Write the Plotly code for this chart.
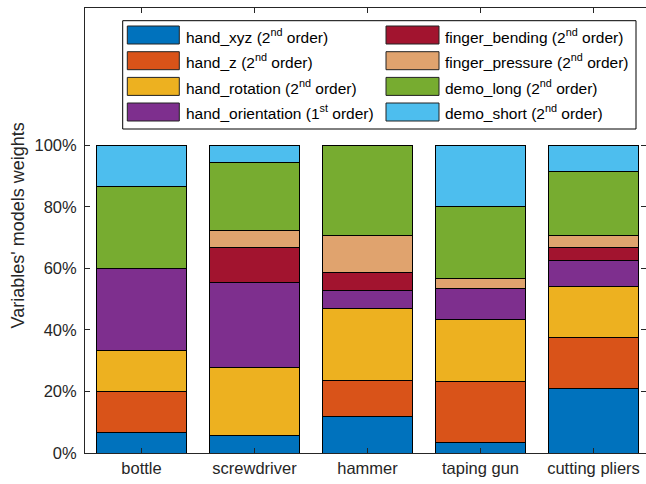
import plotly.graph_objects as go

# Objects and the share (%) of each variable model in the total weight
objects = ["bottle", "screwdriver", "hammer", "taping gun", "cutting pliers"]

hand_xyz = [6.67, 5.56, 11.76, 3.33, 20.83]
hand_z = [13.33, 0.0, 11.76, 20.00, 16.67]
hand_rotation = [13.33, 22.22, 23.53, 20.00, 16.67]
hand_orientation = [26.67, 27.78, 5.88, 10.00, 8.33]
finger_bending = [0.0, 11.11, 5.88, 0.0, 4.17]
finger_pressure = [0.0, 5.56, 11.76, 3.33, 4.17]
demo_long = [26.67, 22.22, 29.41, 23.33, 20.83]
demo_short = [13.33, 5.56, 0.0, 20.00, 8.33]

y_ticks = [0, 20, 40, 60, 80, 100]

series = [
    ("hand_xyz (2<sup>nd</sup> order)", hand_xyz, "#0072BD"),
    ("hand_z (2<sup>nd</sup> order)", hand_z, "#D95319"),
    ("hand_rotation (2<sup>nd</sup> order)", hand_rotation, "#EDB120"),
    ("hand_orientation (1<sup>st</sup> order)", hand_orientation, "#7E2F8E"),
    ("finger_bending (2<sup>nd</sup> order)", finger_bending, "#A2142F"),
    ("finger_pressure (2<sup>nd</sup> order)", finger_pressure, "#E0A36E"),
    ("demo_long (2<sup>nd</sup> order)", demo_long, "#77AC30"),
    ("demo_short (2<sup>nd</sup> order)", demo_short, "#4DBEEE"),
]

W, H = 646, 484
ML, MR, MT, MB = 85, 0, 8, 31
PW, PH = W - ML - MR, H - MT - MB

def px(x):
    return (x - ML) / PW

def py(y):
    return (H - MB - y) / PH

AX = "#262626"
FONT = "Liberation Sans, Arial, sans-serif"

fig = go.Figure()
for name, vals, color in series:
    fig.add_trace(go.Bar(
        x=objects, y=vals, name=name, width=0.8,
        marker=dict(color=color, line=dict(color="#000000", width=1)),
        showlegend=False,
    ))

# Boxed two-column key with wide swatches
shapes = [dict(type="rect", xref="paper", yref="paper",
               x0=px(122.7), x1=px(636), y0=py(129), y1=py(20.7),
               line=dict(color="#000000", width=1), fillcolor="white", layer="above")]
annotations = []
col_x = [(127.3, 179.3, 183.5), (386, 439, 442.5)]
row_top = [26, 51.7, 77.4, 103]
for i, (name, vals, color) in enumerate(series):
    c, r = divmod(i, 4)
    sx0, sx1, tx = col_x[c]
    top = row_top[r]
    shapes.append(dict(type="rect", xref="paper", yref="paper",
                       x0=px(sx0), x1=px(sx1), y0=py(top + 18), y1=py(top),
                       line=dict(color="#222222", width=1), fillcolor=color, layer="above"))
    annotations.append(dict(xref="paper", yref="paper", x=px(tx), y=py(top + 9.5),
                            text=name, showarrow=False, xanchor="left", yanchor="middle",
                            font=dict(family=FONT, size=15.5, color="#000000")))

annotations.append(dict(xref="paper", yref="paper", x=px(17.5), y=py(226),
                        text="Variables' models weights", textangle=-90, showarrow=False,
                        xanchor="center", yanchor="middle",
                        font=dict(family=FONT, size=18, color=AX)))

fig.update_layout(
    width=W, height=H,
    margin=dict(l=ML, r=MR, t=MT, b=MB, pad=0),
    barmode="stack",
    bargap=0.2,
    plot_bgcolor="white", paper_bgcolor="white",
    font=dict(family=FONT, color=AX),
    shapes=shapes, annotations=annotations,
)
fig.update_xaxes(
    range=[-0.5, -0.5 + PW / 113.0],
    showline=True, linecolor=AX, linewidth=1, mirror="ticks",
    ticks="inside", ticklen=5, tickcolor=AX,
    tickfont=dict(family=FONT, size=16.5, color=AX),
    showgrid=False, zeroline=False,
)
fig.update_yaxes(
    range=[0, (H - MB - MT) / 3.076],
    tickvals=y_ticks, ticktext=[f"{v}%" for v in y_ticks],
    showline=True, linecolor=AX, linewidth=1, mirror="ticks",
    ticks="inside", ticklen=5, tickcolor=AX,
    tickfont=dict(family=FONT, size=16.5, color=AX),
    ticklabelstandoff=4,
    showgrid=False, zeroline=False,
)

fig.write_html("out.html")
